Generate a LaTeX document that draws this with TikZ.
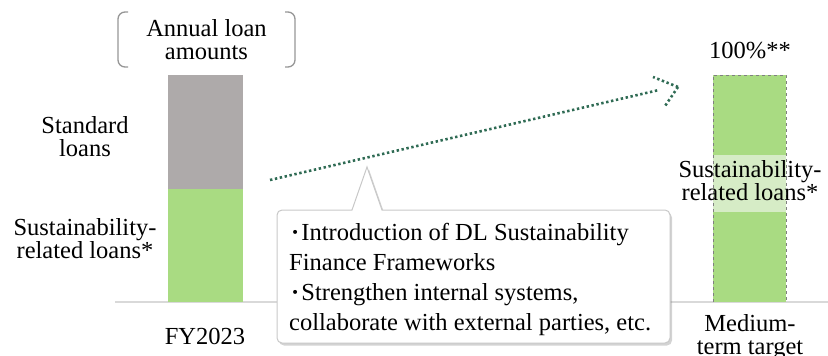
\documentclass[tikz,border=0pt]{standalone}
\usepackage{fontspec}
\setmainfont{Liberation Serif}
\usetikzlibrary{shadows}
\definecolor{barGray}{RGB}{174,170,170}
\definecolor{barGreen}{RGB}{169,219,130}
\definecolor{bandGreen}{RGB}{214,236,198}
\definecolor{dotGreen}{RGB}{47,107,84}
\definecolor{baseGray}{RGB}{217,217,217}
\definecolor{brkGray}{RGB}{150,150,150}
\definecolor{boxGray}{RGB}{200,200,200}
\tikzset{
  lbl/.style={inner sep=0pt, align=center, font=\fontsize{24.5}{23}\selectfont},
  dotline/.style={draw=dotGreen, line width=2.6pt, dash pattern=on 2.4pt off 2.6pt},
}
\begin{document}
\begin{tikzpicture}[x=1pt,y=-1pt]
\useasboundingbox (0,0) rectangle (828,356);
% baseline
\draw[baseGray, line width=1.5pt] (115,302) -- (828,302);
% left bar
\fill[barGray] (168,75) rectangle (243,189);
\fill[barGreen] (168,189) rectangle (243,302);
% right bar
\fill[barGreen] (713,75) rectangle (786,302);
\fill[bandGreen] (713,155) rectangle (786,212);
\draw[gray, line width=0.8pt, dashed] (713,302) -- (713,75) -- (786,75) -- (786,302);
% bracket pair
\draw[brkGray, line width=1.3pt, rounded corners=7pt] (128,12) -- (118,12) -- (118,67) -- (128,67);
\draw[brkGray, line width=1.3pt, rounded corners=7pt] (285,12) -- (295,12) -- (295,67) -- (285,67);
\node[lbl] (amt) at (206.5,40) {Annual loan\\amounts};
% labels
\node[lbl] (std) at (85,137) {Standard\\loans};
\node[lbl] (sus1) at (85,239) {Sustainability-\\related loans*};
\node[lbl] (fy) at (205,336) {FY2023};
\node[lbl] (pct) at (750,51) {100\%**};
\node[lbl] (sus2) at (750,181) {Sustainability-\\related loans*};
\node[lbl] (mid) at (750,337) {Medium-\\term target};
% arrow
\coordinate (as) at (270,180);
\coordinate (ae) at (659,90);
\coordinate (tip) at (678,87);
\draw[dotline] (as) -- (ae);
\draw[dotline] (tip) -- ++(-25,-10);
\draw[dotline] (tip) -- ++(-13,19);
% callout
\path[draw=boxGray, line width=1pt, fill=white, drop shadow={shadow xshift=2pt, shadow yshift=-2.5pt, opacity=0.35},
  rounded corners=5pt]
  (277,276) -- (277,210) [sharp corners] -- (352,210) -- (367,167) -- (382,210) [rounded corners=5pt] -- (670,210) -- (670,343) -- (277,343) -- (277,276);
\node[inner sep=0pt, anchor=north west, align=left, font=\fontsize{24.5}{30}\selectfont] (txt) at (289,223)
  {\makebox[0.5em]{\textbf{\textperiodcentered}}Introduction of DL Sustainability\\
   Finance Frameworks\\
   \makebox[0.5em]{\textbf{\textperiodcentered}}Strengthen internal systems,\\
   collaborate with external parties, etc.};
\end{tikzpicture}
\end{document}
